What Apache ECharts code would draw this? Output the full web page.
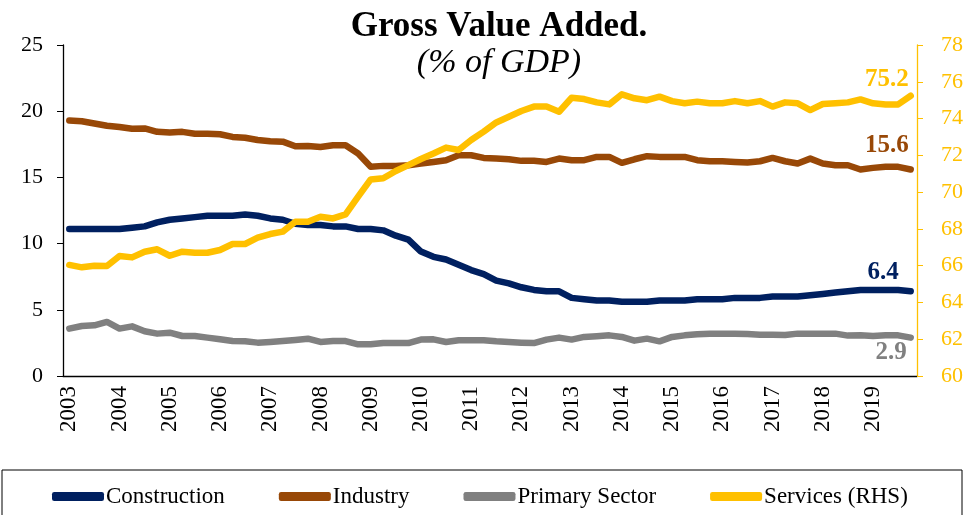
<!doctype html>
<html>
<head>
<meta charset="utf-8">
<title>Gross Value Added</title>
<script src="https://cdn.jsdelivr.net/npm/echarts@6/dist/echarts.min.js"></script>
<style>
  html, body { margin: 0; padding: 0; background: #fff; }
  #container { width: 967px; height: 515px; }
</style>
</head>
<body>
<div id="container"></div>
<script type="text/javascript">
// years shown on the x axis, one category per quarter
var years = ['2003','2004','2005','2006','2007','2008','2009','2010','2011','2012',
             '2013','2014','2015','2016','2017','2018','2019'];

// % of GDP, quarterly 2003Q1 - 2019Q4
var construction = [11.1,11.1,11.1,11.1,11.1,11.2,11.3,11.6,11.8,11.9,12.0,12.1,12.1,12.1,12.2,12.1,11.9,11.8,11.5,11.4,11.4,11.3,
                    11.3,11.1,11.1,11.0,10.6,10.3,9.4,9.0,8.8,8.4,8.0,7.7,7.2,7.0,6.7,6.5,6.4,6.4,5.9,5.8,5.7,5.7,5.6,
                    5.6,5.6,5.7,5.7,5.7,5.8,5.8,5.8,5.9,5.9,5.9,6.0,6.0,6.0,6.1,6.2,6.3,6.4,6.5,6.5,6.5,6.5,6.4];
var industry = [19.3,19.24,19.07,18.9,18.8,18.67,18.7,18.44,18.4,18.44,18.3,18.3,18.26,18.06,18.0,17.83,17.73,17.7,17.35,17.38,17.3,17.43,
                17.43,16.8,15.8,15.87,15.87,15.92,16.05,16.17,16.3,16.67,16.67,16.47,16.42,16.37,16.25,16.25,16.17,16.42,16.3,16.3,16.55,16.55,16.1,
                16.37,16.6,16.55,16.55,16.55,16.3,16.22,16.22,16.17,16.12,16.22,16.47,16.22,16.05,16.42,16.05,15.92,15.92,15.6,15.72,15.8,15.8,15.6];
var primary = [3.58,3.78,3.83,4.08,3.58,3.75,3.38,3.2,3.27,3.02,3.02,2.9,2.77,2.64,2.62,2.52,2.57,2.64,2.72,2.82,2.57,2.64,
               2.64,2.39,2.39,2.49,2.49,2.49,2.75,2.77,2.57,2.7,2.7,2.7,2.62,2.57,2.52,2.49,2.75,2.9,2.75,2.95,3.0,3.07,2.95,
               2.67,2.82,2.62,2.95,3.07,3.15,3.2,3.2,3.2,3.17,3.12,3.12,3.1,3.2,3.2,3.2,3.2,3.05,3.07,3.02,3.07,3.07,2.9];
var services = [66.04,65.91,66.0,65.98,66.53,66.45,66.76,66.89,66.54,66.76,66.7,66.7,66.85,67.18,67.18,67.52,67.72,67.85,68.39,68.39,68.66,68.57,
                68.79,69.75,70.69,70.75,71.15,71.47,71.8,72.1,72.42,72.29,72.83,73.29,73.79,74.1,74.41,74.65,74.65,74.37,75.13,75.06,74.88,74.77,75.32,
                75.1,75.0,75.19,74.95,74.83,74.92,74.83,74.83,74.95,74.83,74.95,74.65,74.88,74.83,74.46,74.79,74.83,74.88,75.04,74.83,74.77,74.77,75.24];

var quarters = [];
for (var y = 0; y < years.length; y++) {
    for (var q = 1; q <= 4; q++) quarters.push(years[y] + 'Q' + q);
}

var serif = 'Liberation Serif';

// value label sitting near the last point of a line
function endLabel(color, dx, dy) {
    return {
        show: true,
        align: 'right',
        verticalAlign: 'middle',
        offset: [dx, dy],
        formatter: function (p) { return p.value.toFixed(1); },
        color: color,
        fontFamily: serif,
        fontWeight: 'bold',
        fontSize: 25
    };
}

var myChart = echarts.init(document.getElementById('container'));
var option = {
    animation: false,
    title: [
        {
            text: 'Gross Value Added.',
            left: 494, top: 4, textAlign: 'center',
            textStyle: { fontFamily: serif, fontWeight: 'bold', fontSize: 35, color: '#000' }
        },
        {
            text: '(% of GDP)',
            left: 494, top: 41, textAlign: 'center',
            textStyle: { fontFamily: serif, fontStyle: 'italic', fontWeight: 'normal', fontSize: 34, color: '#000' }
        }
    ],
    graphic: [{
        type: 'rect',
        shape: { x: 2, y: 470, width: 960, height: 80 },
        style: { fill: 'none', stroke: '#000', lineWidth: 1 },
        silent: true
    }],
    legend: {
        left: 47, top: 480,
        itemWidth: 52, itemHeight: 9, itemGap: 54,
        icon: 'roundRect',
        textStyle: { fontFamily: serif, fontSize: 23, color: '#000', padding: [0, 0, 0, -3] },
        data: ['Construction', 'Industry', 'Primary Sector', 'Services (RHS)']
    },
    grid: { left: 63, right: 50, top: 45, bottom: 139 },
    xAxis: {
        type: 'category',
        data: quarters,
        boundaryGap: true,
        axisLine: { lineStyle: { color: '#000', width: 1.3 } },
        axisTick: { interval: 3, length: 6, lineStyle: { color: '#000' } },
        axisLabel: {
            interval: 3, rotate: 90, margin: 10,
            fontFamily: serif, fontSize: 23, color: '#000',
            formatter: function (v) { return v.slice(0, 4); }
        },
        splitLine: { show: false }
    },
    yAxis: [
        {
            type: 'value', min: 0, max: 25, interval: 5,
            axisLine: { show: true, lineStyle: { color: '#000', width: 1.3 } },
            axisTick: { show: true, length: 6, lineStyle: { color: '#000' } },
            axisLabel: { margin: 20, fontFamily: serif, fontSize: 22, color: '#000' },
            splitLine: { show: false }
        },
        {
            type: 'value', min: 60, max: 78, interval: 2, position: 'right',
            axisLine: { show: true, lineStyle: { color: '#FFC000', width: 1.3 } },
            axisTick: { show: true, length: 6, lineStyle: { color: '#FFC000' } },
            axisLabel: { margin: 24, fontFamily: serif, fontSize: 22, color: '#FFC000' },
            splitLine: { show: false }
        }
    ],
    series: [
        {
            name: 'Construction', type: 'line', yAxisIndex: 0,
            data: construction,
            showSymbol: false, symbol: 'none',
            lineStyle: { width: 6.5, color: '#002060', cap: 'round', join: 'round' },
            itemStyle: { color: '#002060' },
            endLabel: endLabel('#002060', -20, -19)
        },
        {
            name: 'Industry', type: 'line', yAxisIndex: 0,
            data: industry,
            showSymbol: false, symbol: 'none',
            lineStyle: { width: 6.5, color: '#984807', cap: 'round', join: 'round' },
            itemStyle: { color: '#984807' },
            endLabel: endLabel('#984807', -10, -24)
        },
        {
            name: 'Primary Sector', type: 'line', yAxisIndex: 0,
            data: primary,
            showSymbol: false, symbol: 'none',
            lineStyle: { width: 6.5, color: '#808080', cap: 'round', join: 'round' },
            itemStyle: { color: '#808080' },
            endLabel: endLabel('#808080', -12, 15)
        },
        {
            name: 'Services (RHS)', type: 'line', yAxisIndex: 1,
            data: services,
            showSymbol: false, symbol: 'none',
            lineStyle: { width: 6.5, color: '#FFC000', cap: 'round', join: 'round' },
            itemStyle: { color: '#FFC000' },
            endLabel: endLabel('#FFC000', -10, -16)
        }
    ]
};
myChart.setOption(option);
</script>
</body>
</html>
